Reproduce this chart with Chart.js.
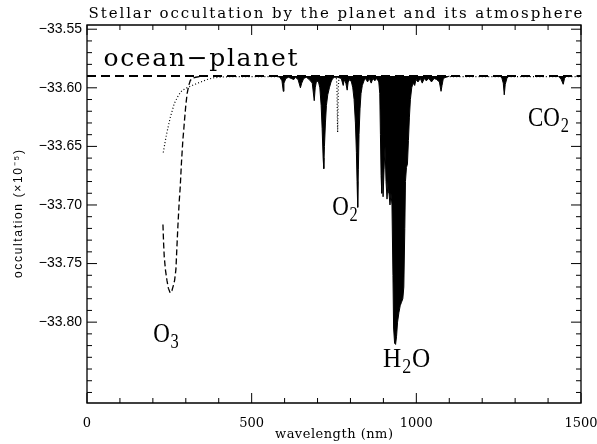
<!DOCTYPE html>
<html><head><meta charset="utf-8">
<script src="https://cdn.jsdelivr.net/npm/chart.js@4.4.1/dist/chart.umd.min.js"></script>
<style>html,body{margin:0;padding:0;background:#fff;} canvas{display:block;}</style>
</head><body>
<canvas id="c" width="597" height="444"></canvas>
<script>
// ---------- data ----------
const xMajorTicks = [0, 500, 1000, 1500];
const yMajorTicks = [-33.55, -33.60, -33.65, -33.70, -33.75, -33.80];
const xRange = [0, 1500];
const yRange = [-33.869, -33.5464];

// reference level (dashed)
const refWl  = [0, 1500];
const refVal = [-33.59, -33.59];

// dashed curve (ozone band)
const o3Wl  = [230.6, 232.5, 234.6, 238.5, 242.8, 247, 252.8, 258, 263, 266, 270, 273, 276, 280, 283, 287, 291, 294, 296, 300, 304, 309, 313.5, 320, 330, 345];
const o3Val = [-33.7166, -33.732, -33.7445, -33.756, -33.7644, -33.771, -33.7752, -33.773, -33.768, -33.7643, -33.755, -33.736, -33.718, -33.697, -33.685, -33.663, -33.645, -33.635, -33.628, -33.615, -33.605, -33.598, -33.5938, -33.5918, -33.591, -33.5903];

// dotted curve
const dotWl  = [231.6, 240.7, 252.8, 265, 277.2, 288.3, 303.5, 322.6, 343.9, 365, 384, 410.6, 445, 757, 759, 761, 763, 765, 1500];
const dotVal = [-33.6552, -33.6407, -33.6254, -33.6134, -33.6066, -33.6023, -33.600, -33.5976, -33.5952, -33.5929, -33.5915, -33.5908, -33.5904, -33.5904, -33.600, -33.638, -33.600, -33.5904, -33.5904];

// solid spectrum (absorption lines, filled)
const solidWl = [575,585,592,596,598,604,612,620,628,633,641,648,652,658,666,675,684,690,693,697,
  703,707,711,714,717,719,721,724,727,731,736,741,746,752,760,772,778,781,786,790,
  793,798,803,807,811,815,818,820,822,824,826,829,832,836,841,846,852,857,863,868,
  874,880,886,889,891,893,895,897,899,902,905,908,911,914,917,920,923,926,929,931,
  934,937,940,943,947,951,955,959,962,965,967,970,973,976,979,982,986,990,995,999,
  1005,1012,1018,1024,1030,1038,1046,1054,1062,1070,1075,1078,1082,1090,1100,1180,
  1255,1260,1264,1267,1270,1275,1280,1350,1432,1440,1446,1450,1455];
const solidVal = [-33.590,-33.591,-33.594,-33.603,-33.596,-33.592,-33.591,-33.592,-33.593,-33.591,-33.593,-33.600,-33.596,-33.592,-33.591,-33.593,-33.596,-33.611,-33.600,-33.594,
  -33.595,-33.600,-33.615,-33.635,-33.660,-33.669,-33.650,-33.630,-33.615,-33.606,-33.600,-33.595,-33.592,-33.591,-33.591,-33.592,-33.598,-33.593,-33.596,-33.602,
  -33.595,-33.593,-33.595,-33.600,-33.610,-33.630,-33.655,-33.680,-33.702,-33.670,-33.640,-33.618,-33.605,-33.598,-33.594,-33.592,-33.595,-33.592,-33.596,-33.592,
  -33.594,-33.592,-33.595,-33.605,-33.640,-33.675,-33.690,-33.660,-33.693,-33.670,-33.650,-33.680,-33.695,-33.680,-33.690,-33.700,-33.690,-33.700,-33.760,-33.805,
  -33.818,-33.819,-33.812,-33.800,-33.792,-33.786,-33.783,-33.780,-33.770,-33.720,-33.680,-33.668,-33.665,-33.645,-33.625,-33.610,-33.600,-33.596,-33.598,-33.593,
  -33.595,-33.592,-33.596,-33.592,-33.594,-33.592,-33.595,-33.592,-33.593,-33.595,-33.603,-33.598,-33.592,-33.591,-33.590,null,
  -33.590,-33.592,-33.596,-33.606,-33.597,-33.592,-33.590,null,-33.590,-33.593,-33.597,-33.592,-33.590];

// texts
const titleText = 'Stellar occultation by the planet and its atmosphere';
const xTitle = 'wavelength (nm)';
const yTitle = 'occultation (\u00d710\u207b\u2075)';
const notes = [
  {parts: [['ocean\u2212planet', 0]], x: 50, y: -33.581, size: 25, width: 194, sx: 1, family: 'DejaVu Serif'},
  {parts: [['O', 0], ['3', 1]], x: 201, y: -33.8173, size: 28, sx: 0.82, family: 'Liberation Serif'},
  {parts: [['O', 0], ['2', 1]], x: 744.5, y: -33.7082, size: 28, sx: 0.82, family: 'Liberation Serif'},
  {parts: [['H', 0], ['2', 1], ['O', 0]], x: 899, y: -33.8386, size: 28, sx: 0.9, family: 'Liberation Serif'},
  {parts: [['CO', 0], ['2', 1]], x: 1339, y: -33.6322, size: 28, sx: 0.82, family: 'Liberation Serif'}
];

// ---------- helpers ----------
const pts = (xs, ys) => xs.map((x, i) => ({x: x, y: ys[i]}));
const minorX = []; for (let v = xRange[0]; v <= xRange[1]; v += 100) minorX.push(v);
const minorY = []; for (let i = 0; i <= 31; i++) minorY.push(+(-33.55 - i * 0.01).toFixed(2));
const isMajor = (v, arr) => arr.some(m => Math.abs(m - v) < 1e-6);

function spaced(ctx, text, x, y, targetW, align) {
  ctx.letterSpacing = '0px';
  const n = [...text].length;
  const w0 = ctx.measureText(text).width;
  let ls = (targetW && n > 1) ? (targetW - w0) / (n - 1) : 0;
  ctx.letterSpacing = ls + 'px';
  const w = w0 + ls * (n - 1);
  let lx = align === 'center' ? x - w / 2 : (align === 'right' ? x - w : x);
  ctx.textAlign = 'left';
  ctx.fillText(text, lx, y);
  ctx.letterSpacing = '0px';
}

const framePlugin = {
  id: 'idlFrame',
  afterDraw(chart) {
    const {ctx, chartArea: a, scales: {x, y}} = chart;
    ctx.save();
    ctx.strokeStyle = '#000';
    ctx.lineWidth = 1.3;
    ctx.beginPath();
    ctx.rect(a.left, a.top, a.right - a.left, a.bottom - a.top);
    ctx.stroke();
    ctx.lineWidth = 1;
    ctx.beginPath();
    minorX.forEach(v => {
      const p = x.getPixelForValue(v);
      const L = isMajor(v, xMajorTicks) ? 10 : 5;
      ctx.moveTo(p, a.bottom); ctx.lineTo(p, a.bottom - L);
      ctx.moveTo(p, a.top); ctx.lineTo(p, a.top + L);
    });
    minorY.forEach(v => {
      const p = y.getPixelForValue(v);
      const L = isMajor(v, yMajorTicks) ? 10 : 5;
      ctx.moveTo(a.left, p); ctx.lineTo(a.left + L, p);
      ctx.moveTo(a.right, p); ctx.lineTo(a.right - L, p);
    });
    ctx.stroke();

    // texts
    ctx.fillStyle = '#000';
    ctx.textBaseline = 'alphabetic';
    ctx.font = '15px "DejaVu Serif"';
    spaced(ctx, titleText, 335.5, 18, 494, 'center');
    ctx.font = '13px "DejaVu Serif"';
    spaced(ctx, xTitle, (a.left + a.right) / 2, 438, 118, 'center');
    ctx.save();
    ctx.translate(22, (a.top + a.bottom) / 2);
    ctx.rotate(-Math.PI / 2);
    ctx.font = '12px "Liberation Sans"';
    spaced(ctx, yTitle, 0, 0, 128, 'center');
    ctx.restore();

    notes.forEach(n => {
      const px = x.getPixelForValue(n.x), py = y.getPixelForValue(n.y);
      ctx.save();
      ctx.translate(px, py);
      ctx.scale(n.sx, 1);
      let cx = 0;
      n.parts.forEach(([t, sub]) => {
        if (sub) {
          ctx.font = Math.round(n.size * 0.72) + 'px "' + n.family + '"';
          ctx.fillText(t, cx + 1, 6);
          cx += ctx.measureText(t).width + 2;
        } else {
          ctx.font = n.size + 'px "' + n.family + '"';
          if (n.width) { spaced(ctx, t, cx, 0, n.width / n.sx, 'left'); cx += n.width / n.sx; }
          else { ctx.fillText(t, cx, 0); cx += ctx.measureText(t).width; }
        }
      });
      ctx.restore();
    });
    ctx.restore();
  }
};

new Chart(document.getElementById('c'), {
  type: 'line',
  data: {
    datasets: [
      {label: 'spectrum', data: pts(solidWl, solidVal), borderColor: '#000', borderWidth: 1,
       backgroundColor: '#000', fill: {value: -33.59}, pointRadius: 0, tension: 0, spanGaps: false},
      {label: 'dotted', data: pts(dotWl, dotVal), borderColor: '#000', borderWidth: 1.2,
       borderDash: [1, 2.2], fill: false, pointRadius: 0, tension: 0},
      {label: 'ozone', data: pts(o3Wl, o3Val), borderColor: '#000', borderWidth: 1.3,
       borderDash: [6, 3], fill: false, pointRadius: 0, tension: 0},
      {label: 'reference', data: pts(refWl, refVal), borderColor: '#000', borderWidth: 2,
       borderDash: [9, 5], fill: false, pointRadius: 0, tension: 0}
    ]
  },
  options: {
    responsive: false,
    maintainAspectRatio: false,
    animation: false,
    devicePixelRatio: 1,
    layout: {padding: {top: 25, right: 16, bottom: 0, left: 0}},
    plugins: {legend: {display: false}, title: {display: false}, tooltip: {enabled: false}},
    scales: {
      x: {
        type: 'linear', min: xRange[0], max: xRange[1],
        afterBuildTicks: s => { s.ticks = xMajorTicks.map(v => ({value: v})); },
        afterFit: s => { s.height = 41; s.paddingLeft = 0; s.paddingRight = 0; },
        ticks: {font: {family: 'DejaVu Serif', size: 13}, color: '#000', padding: 13,
                maxRotation: 0, autoSkip: false, callback: v => String(v)},
        grid: {display: false, drawTicks: false}, border: {display: false}
      },
      y: {
        type: 'linear', min: yRange[0], max: yRange[1],
        afterBuildTicks: s => { s.ticks = yMajorTicks.map(v => ({value: v})); },
        afterFit: s => { s.width = 87; s.paddingTop = 0; s.paddingBottom = 0; },
        ticks: {font: {family: 'Liberation Sans', size: 14}, color: '#000', padding: 5,
                autoSkip: false, callback: v => '\u2212' + Math.abs(v).toFixed(2)},
        grid: {display: false, drawTicks: false}, border: {display: false}
      }
    }
  },
  plugins: [framePlugin]
});
</script>
</body></html>
